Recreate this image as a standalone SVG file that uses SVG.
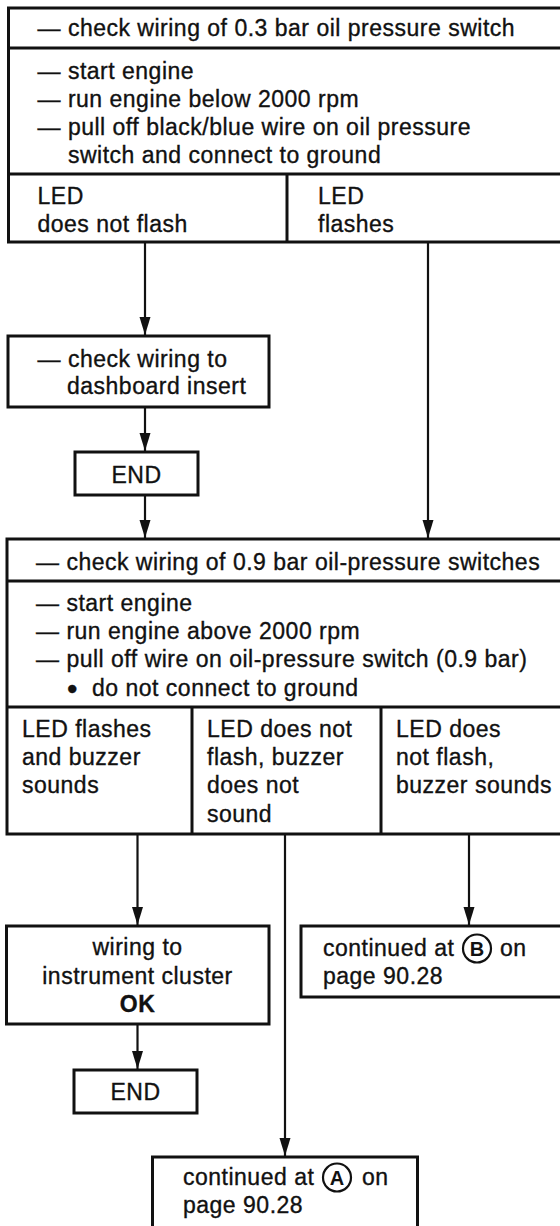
<svg xmlns="http://www.w3.org/2000/svg" width="560" height="1226" viewBox="0 0 560 1226">
<style>
.b{fill:#fff;stroke:#111;stroke-width:3}
.d{stroke:#111;stroke-width:3;fill:none}
.c{stroke:#111;stroke-width:2.2;fill:none;marker-end:url(#ah)}
.t{font-family:"Liberation Sans",Arial,Helvetica,sans-serif;font-size:23px;letter-spacing:0.5px;fill:#111;stroke:#111;stroke-width:0.35}
.m{text-anchor:middle}
.k{font-weight:bold}
.bu{font-size:30px}
.ci{fill:none;stroke:#111;stroke-width:2.2}
.cl{font-family:"Liberation Sans",Arial,Helvetica,sans-serif;font-size:20px;font-weight:bold;fill:#111;text-anchor:middle}
</style>
<defs>
<marker id="ah" markerUnits="userSpaceOnUse" viewBox="0 0 18 12" refX="18" refY="6" markerWidth="18" markerHeight="12" orient="auto">
<path d="M0,0.5 L18,6 L0,11.5 Z" fill="#111"/>
</marker>
</defs>
<rect width="560" height="1226" fill="#fff"/>

<g id="connectors">
<line class="c" x1="145" y1="243" x2="145" y2="335"/>
<line class="c" x1="428" y1="243" x2="428" y2="538"/>
<line class="c" x1="145" y1="408" x2="145" y2="451"/>
<line class="c" x1="145" y1="496" x2="145" y2="538"/>
<line class="c" x1="137.5" y1="835" x2="137.5" y2="925"/>
<line class="c" x1="285" y1="835" x2="285" y2="1156"/>
<line class="c" x1="469" y1="835" x2="469" y2="925"/>
<line class="c" x1="137.5" y1="1025" x2="137.5" y2="1069"/>
</g>

<g id="check-03">
<rect class="b" x="8.5" y="8" width="580" height="234"/>
<line class="d" x1="8.5" y1="48" x2="562" y2="48"/>
<line class="d" x1="8.5" y1="174" x2="562" y2="174"/>
<line class="d" x1="287" y1="174" x2="287" y2="242"/>
<text class="t" x="37.5" y="36">— check wiring of 0.3 bar oil pressure switch</text>
<text class="t" x="37.5" y="79">— start engine</text>
<text class="t" x="37.5" y="107">— run engine below 2000 rpm</text>
<text class="t" x="37.5" y="135">— pull off black/blue wire on oil pressure</text>
<text class="t" x="68" y="163">switch and connect to ground</text>
<text class="t" x="37.5" y="204">LED</text>
<text class="t" x="37.5" y="232">does not flash</text>
<text class="t" x="318" y="204">LED</text>
<text class="t" x="318" y="232">flashes</text>
</g>

<g id="check-dashboard">
<rect class="b" x="8" y="336" width="261" height="71"/>
<text class="t" x="37.5" y="367">— check wiring to</text>
<text class="t" x="67" y="394">dashboard insert</text>
</g>

<g id="end-1">
<rect class="b" x="75" y="452" width="123" height="43"/>
<text class="t m" x="136.5" y="483">END</text>
</g>

<g id="check-09">
<rect class="b" x="7" y="539" width="580" height="295"/>
<line class="d" x1="7" y1="581" x2="562" y2="581"/>
<line class="d" x1="7" y1="707" x2="562" y2="707"/>
<line class="d" x1="192" y1="707" x2="192" y2="834"/>
<line class="d" x1="381" y1="707" x2="381" y2="834"/>
<text class="t" x="36" y="570">— check wiring of 0.9 bar oil-pressure switches</text>
<text class="t" x="36" y="611">— start engine</text>
<text class="t" x="36" y="639">— run engine above 2000 rpm</text>
<text class="t" x="36" y="667">— pull off wire on oil-pressure switch (0.9 bar)</text>
<text class="t bu" x="67" y="699">•</text>
<text class="t" x="92" y="696">do not connect to ground</text>
<text class="t" x="22" y="737">LED flashes</text>
<text class="t" x="22" y="765">and buzzer</text>
<text class="t" x="22" y="793">sounds</text>
<text class="t" x="207" y="737">LED does not</text>
<text class="t" x="207" y="765">flash, buzzer</text>
<text class="t" x="207" y="793">does not</text>
<text class="t" x="207" y="822">sound</text>
<text class="t" x="396" y="737">LED does</text>
<text class="t" x="396" y="765">not flash,</text>
<text class="t" x="396" y="793">buzzer sounds</text>
</g>

<g id="wiring-ok">
<rect class="b" x="6.5" y="926" width="262.5" height="98"/>
<text class="t m" x="137.5" y="955">wiring  to</text>
<text class="t m" x="137.5" y="984">instrument cluster</text>
<text class="t m k" x="137.5" y="1012">OK</text>
</g>

<g id="end-2">
<rect class="b" x="74" y="1070" width="123" height="43"/>
<text class="t m" x="135.5" y="1100">END</text>
</g>

<g id="continued-b">
<rect class="b" x="301" y="926" width="290" height="71"/>
<text class="t" x="323" y="956">continued at</text>
<circle class="ci" cx="477" cy="948.5" r="14"/>
<text class="cl" x="477" y="955.5">B</text>
<text class="t" x="500" y="956">on</text>
<text class="t" x="323" y="984">page 90.28</text>
</g>

<g id="continued-a">
<rect class="b" x="152.5" y="1157" width="265" height="100"/>
<text class="t" x="183" y="1185">continued at</text>
<circle class="ci" cx="337" cy="1177.5" r="14"/>
<text class="cl" x="337" y="1184.5">A</text>
<text class="t" x="362" y="1185">on</text>
<text class="t" x="183" y="1213">page 90.28</text>
</g>
</svg>
